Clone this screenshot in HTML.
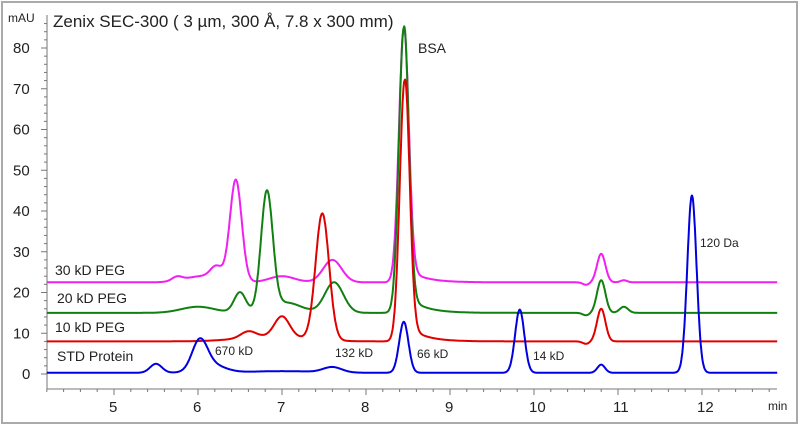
<!DOCTYPE html>
<html><head><meta charset="utf-8"><style>
body{margin:0;background:#fff}
svg{display:block}
text{font-family:"Liberation Sans",sans-serif;fill:#222}
</style></head><body>
<svg id="s" width="800" height="426" viewBox="0 0 800 426" xmlns="http://www.w3.org/2000/svg">
<rect x="2" y="2" width="795" height="421" fill="#fff" stroke="#aaa" stroke-width="2"/>
<g id="ax" stroke="#777" stroke-width="1"></g>
<g id="lines" fill="none" stroke-width="2" stroke-linejoin="round"></g>
<text x="8" y="22" font-size="12">mAU</text>
<text x="53" y="27" font-size="17">Zenix SEC-300 ( 3 µm, 300 Å, 7.8 x 300 mm)</text>
<text x="418" y="53" font-size="14">BSA</text>
<text x="55" y="275" font-size="14">30 kD PEG</text>
<text x="57" y="303" font-size="14">20 kD PEG</text>
<text x="55" y="332" font-size="14">10 kD PEG</text>
<text x="57" y="361" font-size="14">STD Protein</text>
<text x="215" y="355" font-size="12">670 kD</text>
<text x="335" y="357" font-size="12">132 kD</text>
<text x="417" y="358" font-size="12">66 kD</text>
<text x="533" y="360" font-size="12">14 kD</text>
<text x="700" y="247" font-size="12">120 Da</text>
<text x="768" y="410" font-size="12">min</text>
<g id="lab" font-size="15"></g>
</svg>
<script>
var NS="http://www.w3.org/2000/svg";
function X(t){return 114+(t-5)*84;}
function Y(v){return 374-4.075*v;}
function el(p,n,a){var e=document.createElementNS(NS,n);for(var k in a)e.setAttribute(k,a[k]);p.appendChild(e);return e;}
var ax=document.getElementById('ax'),lab=document.getElementById('lab');
el(ax,'line',{x1:47,y1:15,x2:47,y2:389});
el(ax,'line',{x1:47,y1:389,x2:777,y2:389});
for(var v=0;v<=86;v+=2){var y=Y(v);el(ax,'line',{x1:v%10==0?41:44,y1:y,x2:47,y2:y});
 if(v%10==0)el(lab,'text',{x:v==0?22:13,y:y+5}).textContent=v;}
for(var t=4.2;t<=12.9;t+=0.2){var r=Math.round(t*5)/5;var x=X(r);var maj=Math.abs(r-Math.round(r))<0.01;
 el(ax,'line',{x1:x,y1:389,x2:x,y2:maj?395:392});
 if(maj)el(lab,'text',{x:x-5,y:412}).textContent=Math.round(r);}
function g(t,c,h,s){return h*Math.exp(-0.5*Math.pow((t-c)/s,2));}
function tail(t,c,h,tau){return t>c?h*Math.exp(-(t-c)/tau)*(1-Math.exp(-(t-c)/0.04)):0;}
var S=[
{col:"#f020f0",f:function(t){return 22.5+g(t,5.75,1,0.06)+g(t,6.05,1.5,0.2)+g(t,6.22,3,0.07)+g(t,6.45,25,0.07)+g(t,7.0,1.5,0.15)+g(t,7.6,5.5,0.11)+g(t,8.45,62,0.058)+tail(t,8.45,4,0.2)-g(t,10.62,0.6,0.04)+g(t,10.8,7,0.05)+g(t,11.07,0.5,0.04);}},
{col:"#108010",f:function(t){return 15+g(t,6.0,1.5,0.2)+g(t,6.5,5,0.07)+g(t,6.82,29,0.07)+g(t,7.05,2.5,0.18)+g(t,7.62,7.5,0.11)+g(t,8.45,70,0.058)+tail(t,8.45,5,0.2)-g(t,10.62,0.6,0.04)+g(t,10.8,8,0.05)+g(t,11.07,1.5,0.05);}},
{col:"#e00000",f:function(t){return 8+g(t,6.6,1.6,0.09)+g(t,6.9,1.2,0.4)+g(t,7.0,5,0.09)+g(t,7.48,31,0.08)+g(t,8.46,64,0.058)+tail(t,8.46,4.5,0.2)-g(t,10.62,0.6,0.04)+g(t,10.8,8,0.05);}},
{col:"#0000e0",f:function(t){return 0.3+g(t,5.5,2.2,0.07)+g(t,6.02,7,0.09)+g(t,6.15,2,0.16)+g(t,7.0,0.4,0.4)+g(t,7.6,1.3,0.11)+g(t,8.45,12.5,0.055)+g(t,9.83,15.5,0.055)+g(t,10.8,2,0.045)+g(t,11.88,43.5,0.055);}}
];
var L=document.getElementById('lines');
S.forEach(function(s){var d="";for(var t=4.2;t<=12.9;t+=0.005){d+=(d?"L":"M")+X(t).toFixed(1)+" "+Y(s.f(t)).toFixed(1);}
 el(L,'path',{d:d,stroke:s.col});});
</script>
</body></html>
